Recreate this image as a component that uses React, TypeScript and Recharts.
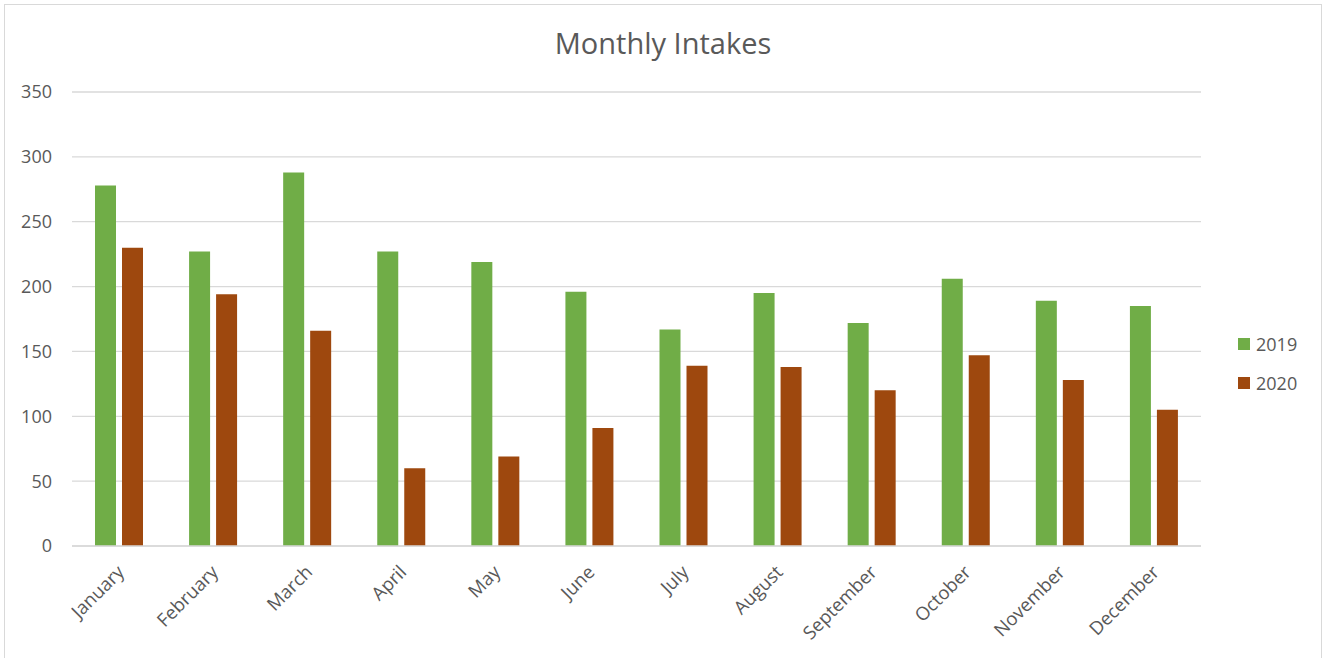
import React from 'react';
import { BarChart, Bar, XAxis, YAxis, CartesianGrid } from 'recharts';

const months = [
    'January', 'February', 'March', 'April', 'May', 'June',
    'July', 'August', 'September', 'October', 'November', 'December',
];
const intakes2019 = [278, 227, 288, 227, 219, 196, 167, 195, 172, 206, 189, 185];
const intakes2020 = [230, 194, 166, 60, 69, 91, 139, 138, 120, 147, 128, 105];
const yTicks = [0, 50, 100, 150, 200, 250, 300, 350];

const COLORS = {
    y2019: '#70AD47',
    y2020: '#9E480E',
    text: '#595959',
    grid: '#D9D9D9',
};

const FONT = '"Open Sans", "Noto Sans", sans-serif';

const data = months.map((month, i) => ({
    month,
    y2019: intakes2019[i],
    y2020: intakes2020[i],
}));

const legendItems = [
    { label: '2019', color: COLORS.y2019 },
    { label: '2020', color: COLORS.y2020 },
];

// month labels slanted up to the right, ending just under each category
const MonthTick = ({ x, y, payload }: { x?: number; y?: number; payload?: { value: string } }) => (
    <g transform={`translate(${(x ?? 0) - 3},${(y ?? 0) + 10})`}>
        <text
            x={0}
            y={0}
            dy="0.71em"
            textAnchor="end"
            transform="rotate(-45)"
            fill={COLORS.text}
            fontSize={18.5}
            fontFamily={FONT}
        >
            {payload?.value}
        </text>
    </g>
);

export default function App() {
    return (
        <div
            style={{
                position: 'absolute',
                left: 4,
                top: 4,
                width: 1316,
                height: 660,
                border: `1px solid ${COLORS.grid}`,
                background: '#fff',
            }}
        >
            <div
                style={{
                    position: 'absolute',
                    top: 18,
                    left: 0,
                    width: '100%',
                    textAlign: 'center',
                    fontFamily: FONT,
                    fontSize: 29,
                    color: COLORS.text,
                }}
            >
                Monthly Intakes
            </div>
            <BarChart
                width={1316}
                height={660}
                data={data}
                margin={{ top: 87, right: 120, left: 0, bottom: 0 }}
                barSize={21}
                barGap={6}
            >
                <CartesianGrid vertical={false} stroke={COLORS.grid} strokeWidth={1.3} />
                <XAxis
                    dataKey="month"
                    interval={0}
                    tickLine={false}
                    axisLine={{ stroke: COLORS.grid, strokeWidth: 1.5 }}
                    tick={<MonthTick />}
                    height={119}
                />
                <YAxis
                    domain={[0, 350]}
                    ticks={yTicks}
                    width={67}
                    axisLine={false}
                    tickLine={false}
                    tickMargin={14}
                    tick={{ fontSize: 18, fill: COLORS.text, fontFamily: FONT }}
                />
                <Bar dataKey="y2019" name="2019" fill={COLORS.y2019} isAnimationActive={false} />
                <Bar dataKey="y2020" name="2020" fill={COLORS.y2020} isAnimationActive={false} />
            </BarChart>
            <div
                style={{
                    position: 'absolute',
                    left: 1233,
                    top: 319,
                    fontFamily: FONT,
                    fontSize: 18,
                    color: COLORS.text,
                }}
            >
                {legendItems.map((item) => (
                    <div key={item.label} style={{ display: 'flex', alignItems: 'center', height: 39 }}>
                        <span style={{ width: 12, height: 12, background: item.color, marginRight: 6 }} />
                        <span>{item.label}</span>
                    </div>
                ))}
            </div>
        </div>
    );
}
